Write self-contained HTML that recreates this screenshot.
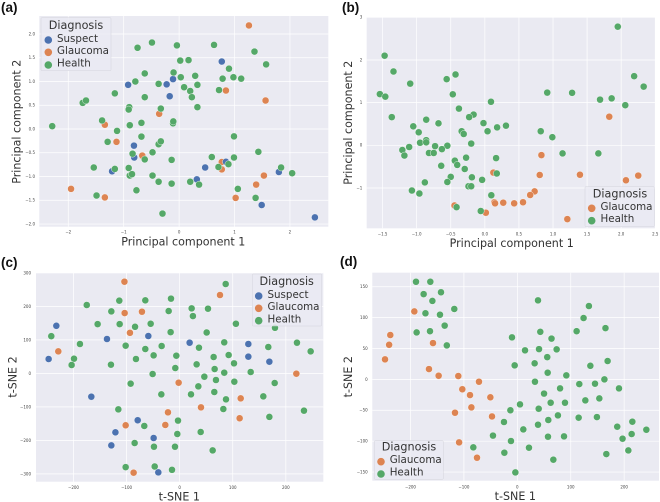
<!DOCTYPE html>
<html lang="en">
<head>
<meta charset="utf-8">
<title>PCA and t-SNE scatter plots</title>
<style>
html,body{margin:0;padding:0;background:#fff;width:660px;height:502px;overflow:hidden}
svg{display:block;filter:blur(0.3px)}
text{font-family:"DejaVu Sans","Liberation Sans",sans-serif;fill:#262626}
.panel{font-family:"Liberation Sans",sans-serif;font-weight:bold;font-size:13.5px;fill:#111}
.axis{font-size:11.1px;text-anchor:middle;fill:#333}
.ltitle{font-size:11.2px;text-anchor:middle;fill:#333}
.lentry{font-size:10.3px;fill:#333}
.frame{fill:#eaeaf2;fill-opacity:.8;stroke:#d4d4dc;stroke-width:.5}
</style>
</head>
<body>
<svg id="figure" width="660" height="502" viewBox="0 0 660 502" xmlns="http://www.w3.org/2000/svg">
  <g id="plots"></g>

  <text class="panel" x="1" y="12">(a)</text>
  <text class="panel" x="342" y="12">(b)</text>
  <text class="panel" x="1" y="267">(c)</text>
  <text class="panel" x="340" y="266">(d)</text>

  <text class="axis" x="183.3" y="245.5">Principal component 1</text>
  <text class="axis" transform="translate(20.5,121.7) rotate(-90)">Principal component 2</text>
  <text class="axis" x="511.7" y="247">Principal component 1</text>
  <text class="axis" transform="translate(352,122.7) rotate(-90)">Principal component 2</text>
  <text class="axis" x="179.3" y="500.5">t-SNE 1</text>
  <text class="axis" transform="translate(16.5,377) rotate(-90)">t-SNE 2</text>
  <text class="axis" x="515.3" y="500">t-SNE 1</text>
  <text class="axis" transform="translate(352,376.7) rotate(-90)">t-SNE 2</text>

  <g>
    <rect class="frame" x="41" y="17.7" width="70" height="53" rx="1"/>
    <text class="ltitle" x="76" y="29">Diagnosis</text>
    <circle cx="48.3" cy="40" r="3.8" fill="#4c72b0"/>
    <text class="lentry" x="57" y="41.8">Suspect</text>
    <circle cx="48.3" cy="52.3" r="3.8" fill="#dd8452"/>
    <text class="lentry" x="57" y="54">Glaucoma</text>
    <circle cx="48.3" cy="65" r="3.8" fill="#55a868"/>
    <text class="lentry" x="57" y="66.5">Health</text>
  </g>

  <g>
    <rect class="frame" x="585" y="186.7" width="69.3" height="40" rx="1"/>
    <text class="ltitle" x="620" y="197.5">Diagnosis</text>
    <circle cx="591.7" cy="208.3" r="3.8" fill="#dd8452"/>
    <text class="lentry" x="600.5" y="210">Glaucoma</text>
    <circle cx="591.7" cy="220.7" r="3.8" fill="#55a868"/>
    <text class="lentry" x="600.5" y="222.2">Health</text>
  </g>

  <g>
    <rect class="frame" x="252.3" y="274" width="69.4" height="52" rx="1"/>
    <text class="ltitle" x="286.7" y="285">Diagnosis</text>
    <circle cx="258.7" cy="296" r="3.8" fill="#4c72b0"/>
    <text class="lentry" x="267.5" y="297.8">Suspect</text>
    <circle cx="258.7" cy="308.3" r="3.8" fill="#dd8452"/>
    <text class="lentry" x="267.5" y="310">Glaucoma</text>
    <circle cx="258.7" cy="320.7" r="3.8" fill="#55a868"/>
    <text class="lentry" x="267.5" y="322.3">Health</text>
  </g>

  <g>
    <rect class="frame" x="374.3" y="440.7" width="69" height="38.6" rx="1"/>
    <text class="ltitle" x="409" y="450.7">Diagnosis</text>
    <circle cx="381" cy="461.7" r="3.8" fill="#dd8452"/>
    <text class="lentry" x="389.7" y="463">Glaucoma</text>
    <circle cx="381" cy="474" r="3.8" fill="#55a868"/>
    <text class="lentry" x="389.7" y="475.5">Health</text>
  </g>
</svg>

<script>
// Panel (a): PCA, three classes
const aXTicks = ["−2","−1","0","1","2"];
const aYTicks = ["−2.0","−1.5","−1.0","−0.5","0.0","0.5","1.0","1.5","2.0"];
const aSuspectX = [-0.92,-0.225,-0.11,-0.17,0.77,-0.815,-0.81,-1.21,0.845,0.47,0.32,1.80,1.49,2.45];
const aSuspectY = [0.93,0.94,1.05,0.69,1.42,-0.35,-0.60,-0.89,-0.69,-0.81,-1.06,-0.905,-1.60,-1.86];
const aGlaucomaX = [1.26,0.845,1.56,-0.36,-1.34,-1.13,-0.665,0.77,0.77,1.53,1.39,1.02,-1.95,-1.34];
const aGlaucomaY = [2.18,0.81,0.60,0.32,0.09,-0.27,-0.56,-0.695,-0.85,-0.98,-1.17,-1.45,-1.26,-1.44];
const aHealthX = [-2.29,-1.74,-1.68,-1.16,-1.39,-1.12,-1.29,-1.54,-1.16,-1.49,-0.75,-0.49,-0.04,0.63,1.36,1.57,0.02,0.17,-0.62,-0.79,-0.37,-0.10,0.03,0.29,0.33,0.09,0.20,0.23,0.33,-0.62,-0.90,-0.91,-0.33,-0.89,-0.68,-0.11,-0.105,-0.68,-0.37,-0.33,-0.84,-0.48,-0.62,-0.135,-0.91,-0.89,-0.85,-0.48,-0.37,-0.135,0.20,0.36,-0.77,-0.30,0.59,0.71,0.89,0.99,0.99,1.43,1.84,2.04,1.06,1.38,0.72,0.785,0.90,0.98,1.12];
const aHealthY = [0.06,0.55,0.60,0.75,0.18,-0.04,-0.27,-0.81,-0.84,-1.40,1.71,1.82,1.76,1.77,1.63,1.36,1.44,1.45,1.17,1.00,0.95,1.19,1.09,1.12,0.93,0.88,0.80,0.67,0.46,0.67,0.46,0.41,0.43,0.08,0.13,0.12,0.16,-0.16,-0.32,-0.26,-0.52,-0.49,-0.64,-0.65,-0.82,-0.98,-0.95,-0.98,-1.11,-1.15,-1.11,-1.17,-1.29,-1.78,-0.59,-0.80,-0.74,-0.60,-0.155,-0.48,-0.81,-0.93,-1.26,-1.45,0.82,1.06,1.27,1.09,1.06];

// Panel (b): PCA, two classes
const bXTicks = ["−1.5","−1.0","−0.5","0.0","0.5","1.0","1.5","2.0","2.5"];
const bYTicks = ["−1","0","1","2","3"];
const bGlaucomaX = [1.825,0.83,0.805,1.395,2.07,2.25,0.125,0.73,0.665,0.56,0.43,0.27,0.14,0.15,-0.445,0.015,1.21];
const bGlaucomaY = [0.67,-0.23,-0.695,-0.69,-0.82,-0.71,-0.64,-1.08,-1.165,-1.335,-1.36,-1.345,-1.335,-1.36,-1.41,-1.58,-1.73];
const bHealthX = [1.95,-1.47,-1.34,-1.095,-1.54,-1.46,-1.365,-0.56,-0.43,-0.47,-0.38,0.09,-0.165,-0.23,-0.86,-0.68,-1.05,-0.97,-0.86,-0.95,-0.86,-0.73,-0.55,-0.63,-1.11,-1.21,-1.18,-0.82,-0.75,-0.34,-0.31,-0.02,0.04,0.18,0.31,-0.20,-0.275,-0.44,-0.405,-0.64,-0.295,0.165,0.175,-0.50,-0.55,-0.19,-0.04,-0.88,-1.07,-0.96,-0.24,-0.20,0.095,-0.415,-0.06,0.915,1.28,1.69,1.86,2.06,2.19,2.33,0.82,0.99,1.14,1.665];
const bHealthY = [2.78,2.10,1.73,1.445,1.20,1.14,0.66,1.55,1.66,1.195,0.86,1.02,0.72,0.66,0.60,0.515,0.445,0.305,0.12,0.06,0.07,-0.02,-0.01,-0.09,-0.04,-0.11,-0.24,-0.18,-0.18,0.33,0.265,0.52,0.33,0.42,0.46,0.04,-0.29,-0.36,-0.46,-0.48,-0.555,-0.30,-0.66,-0.74,-0.86,-0.75,-0.81,-0.87,-1.06,-1.13,-0.96,-0.96,-1.17,-1.45,-1.54,1.235,1.23,1.07,1.10,0.94,1.62,1.375,0.33,0.19,-0.19,-0.19];

// Panel (c): t-SNE, three classes
const cXTicks = ["−200","−100","0","100","200"];
const cYTicks = ["−300","−200","−100","0","100","200","300"];
const cSuspectX = [-232.3,-136.9,-59,18.8,129.4,129.4,169,-246.8,-166.4,-79,-121,-49,-128.7,-40.2];
const cSuspectY = [142,102.5,111.4,91.5,87.6,49.8,34.8,42.8,-69.7,-140,-176,-193,-215,-295.5];
const cGlaucomaX = [-104,76,-103.6,-71,-93.6,-228.6,219.8,-1.9,115,40.2,-22,113,-101.7,-27,-86.7];
const cGlaucomaY = [273.6,233.8,180,184,121,65.7,-1,-27.9,-74.6,-101.5,-116.4,-134,-155,-154,-296.5];
const cHealthX = [86.7,-175,-113.7,-64.7,-16.3,-128.7,-20.7,22.6,53.4,25,-154.5,-113,-84,-54.6,-17,50.9,106,179.6,-241.8,-187.8,-101.7,-64.7,-33.9,36.4,84,167,221,246.8,-199,-203.5,-129.4,-82.3,-49,-6.3,64,92.3,32,-8.2,65.9,102.4,84,133.8,-50.9,46.5,68.4,103,179,-92.3,35.2,65.3,-34.5,21.4,157.6,87.3,82.3,-115.5,234.2,169,-3.1,-66.6,39.6,-4.4,-84.8,-48.4,-8.8,62.2,-101.7,-47,-14.4];
const cHealthY = [266.7,204,217,218,223,185,186,194,193,171,147,147,139,148,123,122,148,136,111,87.6,82.6,72.6,81.6,76.6,92.5,78.6,91.5,65.7,43.8,24.9,25.9,42.8,53.7,52.7,48.8,54.7,26.9,15.9,12.9,29.9,2,4,-2,-10,-19.9,-24.9,-28.9,-30.8,-38.8,-55.7,-62.7,-62.7,-68.7,-77.6,-106.5,-107.5,-111.4,-130,-141,-157,-175,-181,-208,-219,-219,-230,-280,-278,-288];

// Panel (d): t-SNE, two classes
const dXTicks = ["−200","−100","0","100","200"];
const dYTicks = ["−150","−100","−50","0","50","100","150"];
const dGlaucomaX = [-192.8,-237.8,-240,-247.7,-157.9,-165.4,-147.3,-110.5,-71.8,-103,-88.6,-50.5,-86,-116.7,-47.4,-109,-75.5];
const dGlaucomaY = [110,71.8,56,32.4,58.8,16.7,5.9,5.4,-3.8,-16,-25.4,-29,-45.3,-54,-60,-102,-126.8];
const dHealthX = [-189.7,-162.9,-175.4,-142.9,-159,-118,-172,-144.8,-136,-188.5,-163.5,-132,38.7,134,124,111,165,43,64,-10,14.4,40.6,73.6,56,32.4,-5,169,136.7,56.8,91.7,33,163,145.4,116,80,190.3,50,153.5,127.3,62.4,89.2,5,40,-13,76,114.8,149,58,-25,38.7,215.3,187,11.2,241.5,214,-45.6,57.4,87.4,197,-11.9,-82.4,21.8,207.8,-24.3,166.6,67.4,-3.7];
const dHealthY = [158,158,138,141,127,114,107,104.7,87,76,78,55,127.9,118.7,99.3,78,83,77,66,68,47,49,48.6,36,26,22.7,29.7,22,10.8,6.5,-3.8,0,-7,-7.6,-14.6,-14.6,-23,-30.8,-34,-37.8,-37.8,-40.5,-47.5,-50,-58.3,-62,-61,-65.8,-69,-73.4,-68.5,-76.6,-81,-81.5,-88.5,-91,-92.8,-92.3,-96,-99.8,-110,-110.6,-115,-118.7,-120.9,-130,-150.6];

const SVG_NS = "http://www.w3.org/2000/svg";
const COLORS = { suspect: "#4c72b0", glaucoma: "#dd8452", health: "#55a868" };
const root = document.getElementById("plots");

function tickValue(label) {
  return parseFloat(label.replace("−", "-"));
}

function drawPanel(id, rect, xDomain, yDomain, xTicks, yTicks, tickX, tickY, series) {
  const xScale = v => rect.left + (v - xDomain[0]) / (xDomain[1] - xDomain[0]) * (rect.right - rect.left);
  const yScale = v => rect.top + (yDomain[1] - v) / (yDomain[1] - yDomain[0]) * (rect.bottom - rect.top);

  const group = document.createElementNS(SVG_NS, "g");
  
  
  root.appendChild(group);

  const bg = document.createElementNS(SVG_NS, "rect");
  bg.setAttribute("x", rect.left);
  bg.setAttribute("y", rect.top);
  bg.setAttribute("width", rect.right - rect.left);
  bg.setAttribute("height", rect.bottom - rect.top);
  bg.setAttribute("fill", "#eaeaf2");
  
  
  group.appendChild(bg);

  xTicks.forEach(label => {
    const px = xScale(tickValue(label));
    const line = document.createElementNS(SVG_NS, "line");
    line.setAttribute("x1", px);
    line.setAttribute("x2", px);
    line.setAttribute("y1", rect.top);
    line.setAttribute("y2", rect.bottom);
    line.setAttribute("stroke", "#fff");
    line.setAttribute("stroke-width", "0.7");
    
    
    group.appendChild(line);

    const text = document.createElementNS(SVG_NS, "text");
    text.setAttribute("x", px);
    text.setAttribute("y", tickY);
    text.setAttribute("text-anchor", "middle");
    text.setAttribute("font-size", "4");
    text.setAttribute("style", "fill:#444");
    
    
    text.textContent = label;
    group.appendChild(text);
  });

  yTicks.forEach(label => {
    const py = yScale(tickValue(label));
    const line = document.createElementNS(SVG_NS, "line");
    line.setAttribute("x1", rect.left);
    line.setAttribute("x2", rect.right);
    line.setAttribute("y1", py);
    line.setAttribute("y2", py);
    line.setAttribute("stroke", "#fff");
    line.setAttribute("stroke-width", "0.7");
    
    
    group.appendChild(line);

    const text = document.createElementNS(SVG_NS, "text");
    text.setAttribute("x", tickX);
    text.setAttribute("y", py + 1.4);
    text.setAttribute("text-anchor", "end");
    text.setAttribute("font-size", "4");
    text.setAttribute("style", "fill:#444");
    
    
    text.textContent = label;
    group.appendChild(text);
  });

  series.forEach(s => {
    s.xs.forEach((v, i) => {
      const dot = document.createElementNS(SVG_NS, "circle");
      dot.setAttribute("cx", xScale(v));
      dot.setAttribute("cy", yScale(s.ys[i]));
      dot.setAttribute("r", "3.5");
      dot.setAttribute("fill", COLORS[s.name]);
      dot.setAttribute("stroke", "#fff");
      dot.setAttribute("stroke-width", "0.4");
      
      
      group.appendChild(dot);
    });
  });
}

drawPanel("a", {left:39.3,right:328.3,top:16,bottom:226.7}, [-2.523,2.692], [-2.056,2.379], aXTicks, aYTicks, 35, 233.7, [
  {name:"glaucoma", xs:aGlaucomaX, ys:aGlaucomaY},
  {name:"suspect", xs:aSuspectX, ys:aSuspectY},
  {name:"health", xs:aHealthX, ys:aHealthY}
]);
drawPanel("b", {left:366.7,right:655,top:17.3,bottom:228.3}, [-1.733,2.496], [-1.945,3], bXTicks, bYTicks, 362.3, 235.7, [
  {name:"glaucoma", xs:bGlaucomaX, ys:bGlaucomaY},
  {name:"health", xs:bHealthX, ys:bHealthY}
]);
drawPanel("c", {left:36,right:323.3,top:272.7,bottom:481.7}, [-270.6,270.6], [-323.4,300.5], cXTicks, cYTicks, 31, 489, [
  {name:"glaucoma", xs:cGlaucomaX, ys:cGlaucomaY},
  {name:"suspect", xs:cSuspectX, ys:cSuspectY},
  {name:"health", xs:cHealthX, ys:cHealthY}
]);
drawPanel("d", {left:372.3,right:659,top:272.7,bottom:480.7}, [-271.5,265.2], [-164,172.7], dXTicks, dYTicks, 367.7, 488.7, [
  {name:"glaucoma", xs:dGlaucomaX, ys:dGlaucomaY},
  {name:"health", xs:dHealthX, ys:dHealthY}
]);
</script>
</body>
</html>
